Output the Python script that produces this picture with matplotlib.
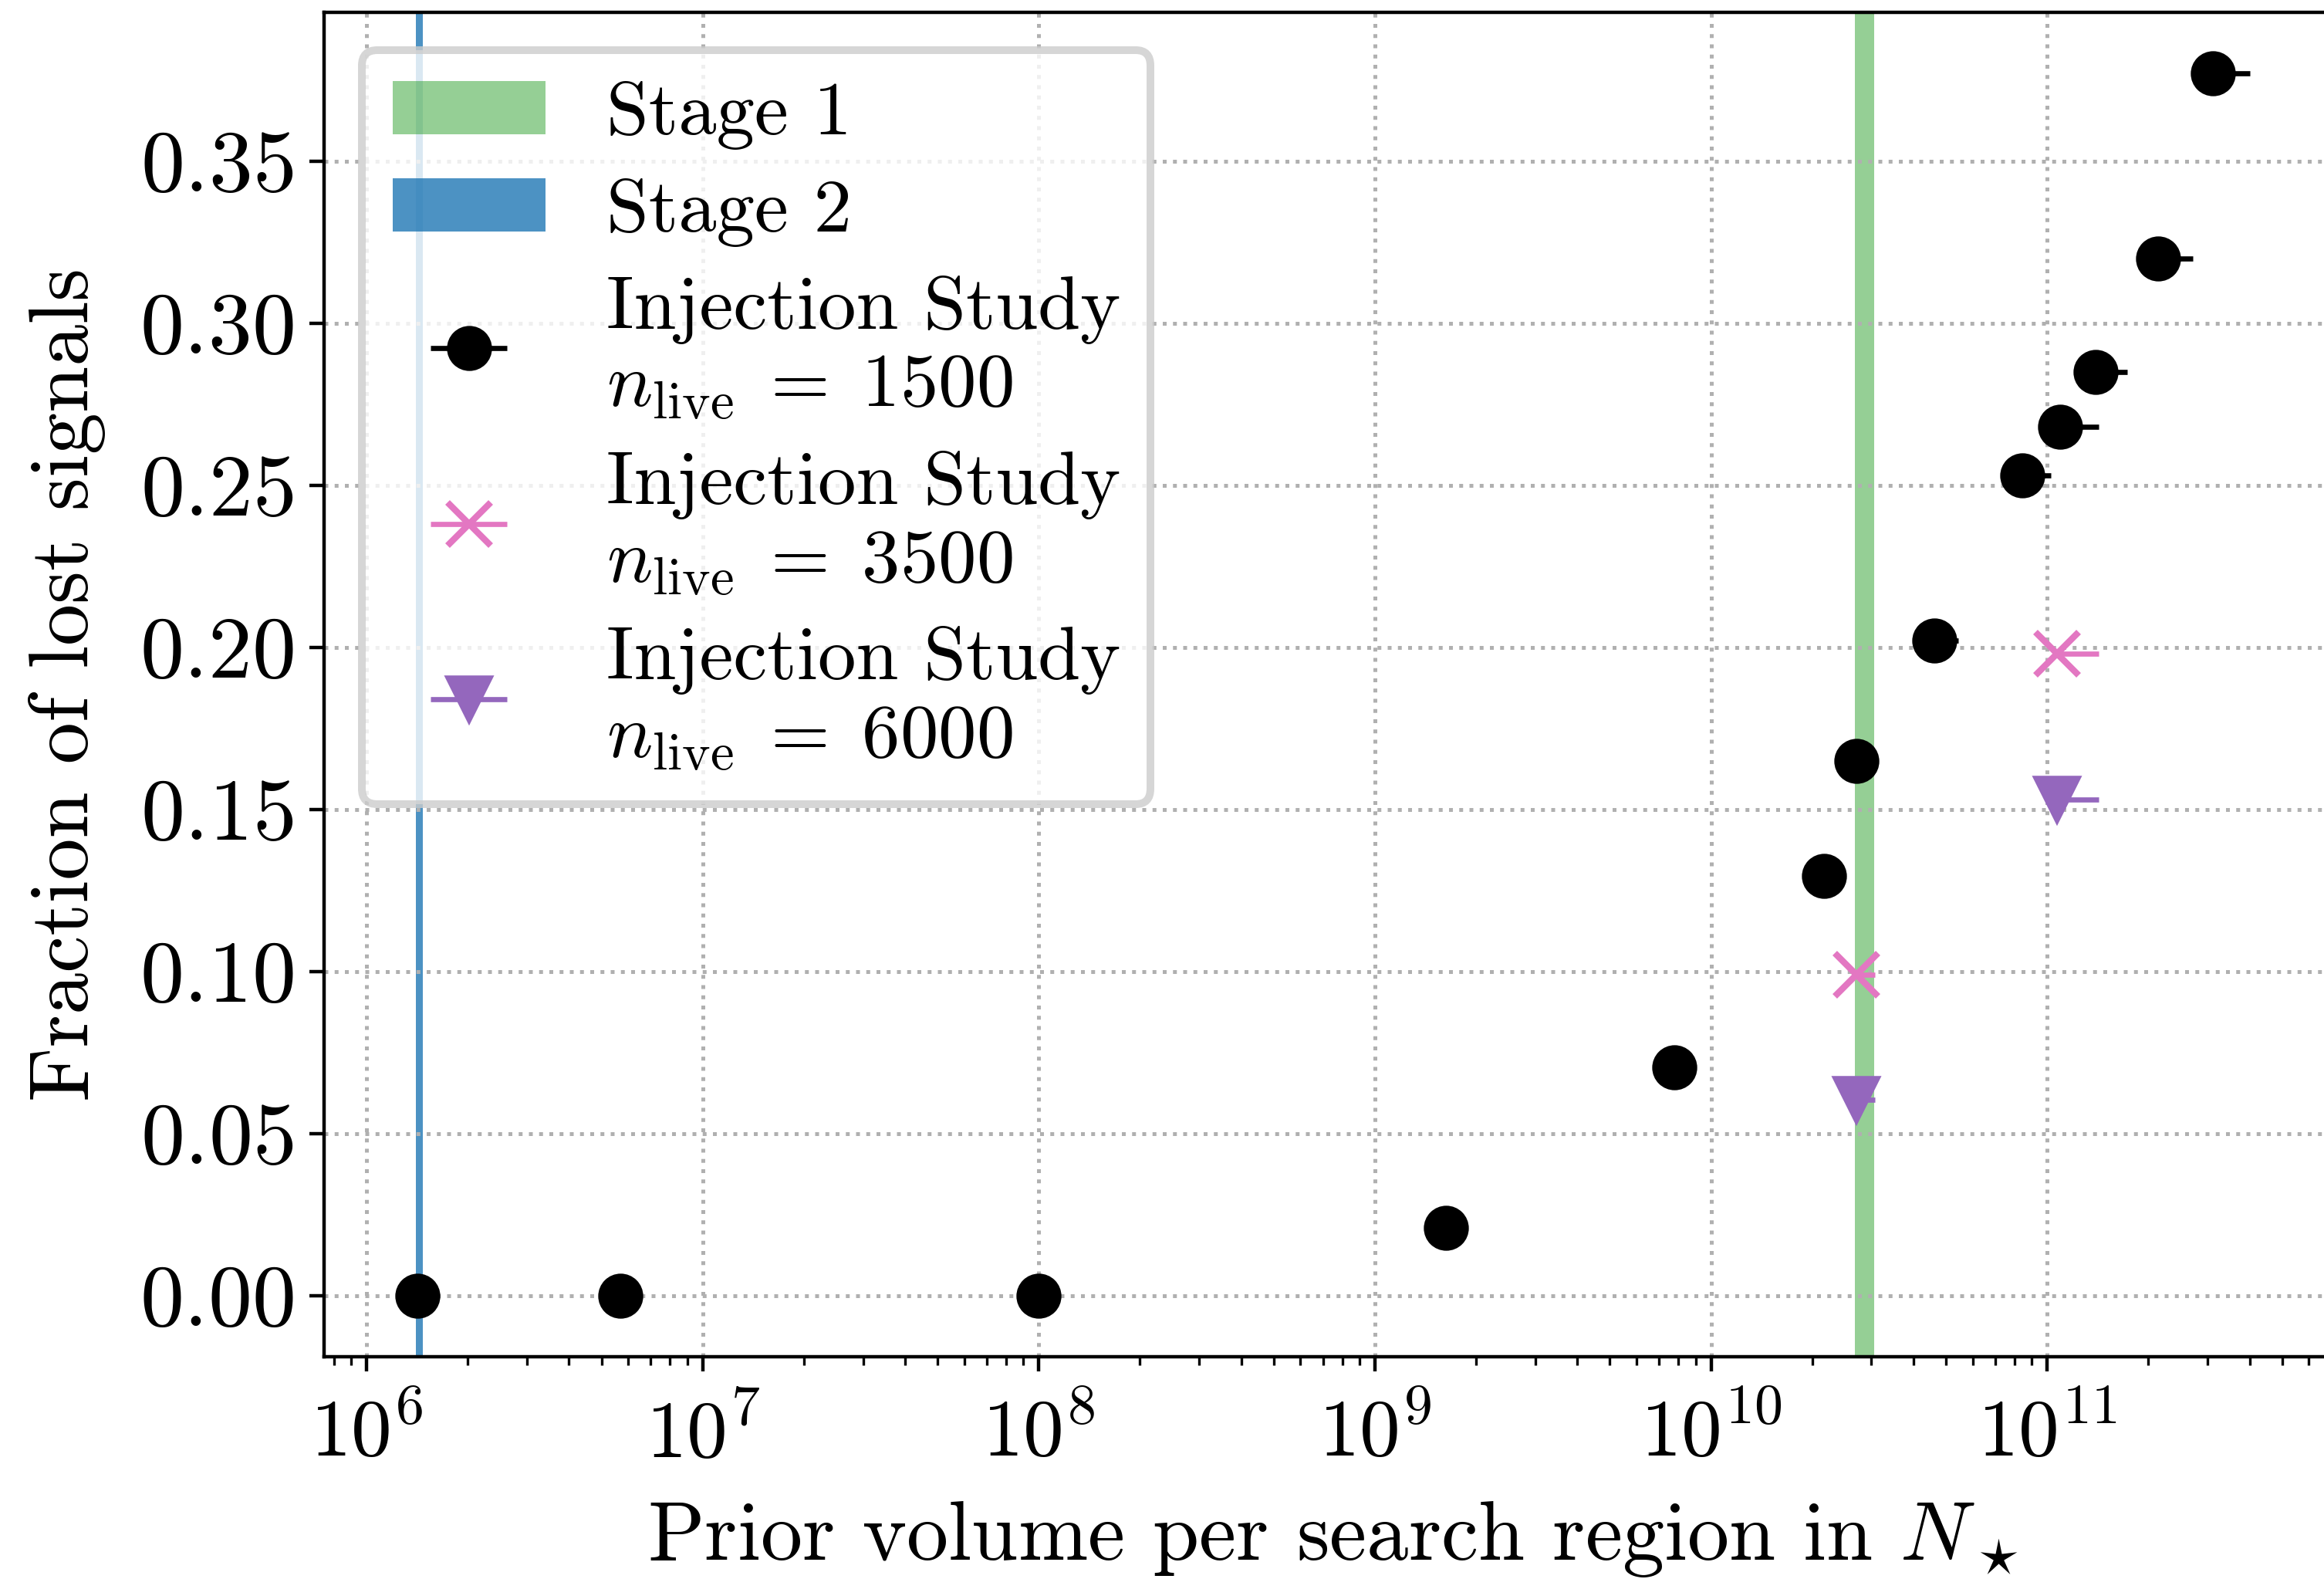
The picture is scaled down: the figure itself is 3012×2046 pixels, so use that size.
import numpy as np
import matplotlib
matplotlib.use('Agg')
import matplotlib.pyplot as plt
from matplotlib.ticker import MultipleLocator

plt.rcParams.update({
    'font.family': 'serif',
    'font.serif': ['cmr10'],
    'mathtext.fontset': 'cm',
    'axes.formatter.use_mathtext': True,
    'font.size': 17.5,
})

# stage boundaries (prior volume)
stage1 = (2.68e10, 3.06e10)
stage2 = (1.40e6, 1.47e6)

# injection study, n_live = 1500
x_1500 = [1.42e6, 5.68e6, 1.0e8, 1.63e9, 7.78e9, 2.17e10, 2.70e10, 4.62e10,
          8.45e10, 1.09e11, 1.39e11, 2.14e11, 3.11e11]
y_1500 = [0.0, 0.0, 0.0, 0.021, 0.0705, 0.1295, 0.165, 0.202,
          0.253, 0.268, 0.285, 0.320, 0.377]
xerr_1500 = [5e4, 3e5, 6e6, 1.2e8, 7e8, 2.3e9, 3.7e9, 8.3e9,
             1.83e10, 3.3e10, 3.4e10, 5.7e10, 9.0e10]

# n_live = 3500
x_3500 = [2.70e10, 1.07e11]
y_3500 = [0.099, 0.198]
xerr_3500 = [3.7e9, 3.5e10]

# n_live = 6000
x_6000 = [2.70e10, 1.07e11]
y_6000 = [0.0605, 0.153]
xerr_6000 = [3.7e9, 3.5e10]

fig = plt.figure(figsize=(7.53, 5.115), dpi=400)
ax = fig.add_axes([0.1394, 0.1408, 0.8682, 0.8514])

ax.axvspan(*stage1, color='tab:green', alpha=0.5, lw=0, label='Stage 1')
ax.axvspan(*stage2, color='tab:blue', alpha=0.8, lw=0, label='Stage 2')

ax.errorbar(x_1500, y_1500, xerr=[np.zeros(len(x_1500)), xerr_1500], fmt='o',
            color='k', ms=9.5, elinewidth=1.2,
            label='Injection Study\n$n_{\\mathrm{live}}\\;=\\;1500$')
ax.errorbar(x_3500, y_3500, xerr=[np.zeros(len(x_3500)), xerr_3500], fmt='x',
            color='tab:pink', ms=10, mew=1.5, elinewidth=1.2,
            label='Injection Study\n$n_{\\mathrm{live}}\\;=\\;3500$')
ax.errorbar(x_6000, y_6000, xerr=[np.zeros(len(x_6000)), xerr_6000], fmt='v',
            color='tab:purple', ms=10, elinewidth=1.2,
            label='Injection Study\n$n_{\\mathrm{live}}\\;=\\;6000$')

ax.set_xscale('log')
ax.yaxis.set_major_locator(MultipleLocator(0.05))
ax.tick_params(axis='x', which='major', pad=6, labelsize=19)
ax.tick_params(axis='y', labelsize=20.5)
ax.grid(True, linestyle=':', color='#b0b0b0', linewidth=0.9)

ax.set_xlabel('Prior volume per search region in $N_\\star$', fontsize=19.5, labelpad=6)
ax.set_ylabel('Fraction of lost signals', fontsize=19.5, labelpad=8)

leg = ax.legend(loc='upper left', labelspacing=0.37, fontsize=17.8)
leg.get_frame().set_linewidth(1.8)

plt.savefig('out.png', dpi=400)
